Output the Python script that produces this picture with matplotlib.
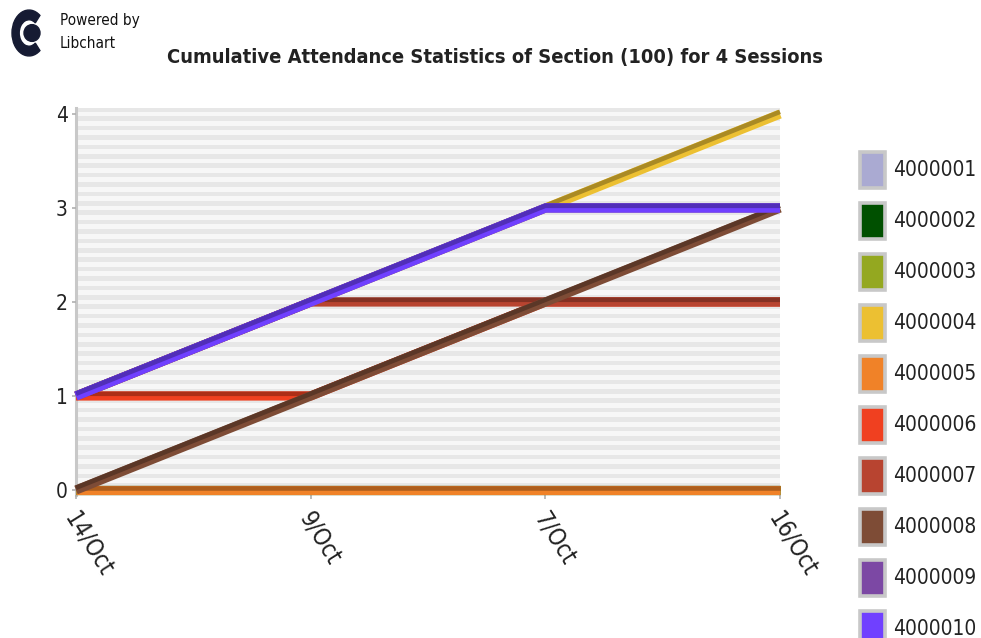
import numpy as np
import matplotlib
matplotlib.use('Agg')
import matplotlib.pyplot as plt
import matplotlib.patheffects as pe
from matplotlib.patches import Rectangle, Wedge, Ellipse
from matplotlib.colors import to_rgb

# sessions and cumulative attendance per student
sessions = ['14/Oct', '9/Oct', '7/Oct', '16/Oct']
students = ['4000001', '4000002', '4000003', '4000004', '4000005',
            '4000006', '4000007', '4000008', '4000009', '4000010']
attendance = [
    [0, 0, 0, 0],
    [0, 0, 0, 0],
    [0, 0, 0, 0],
    [1, 2, 3, 4],
    [0, 0, 0, 0],
    [1, 1, 2, 2],
    [1, 2, 2, 2],
    [0, 1, 2, 3],
    [1, 2, 3, 3],
    [1, 2, 3, 3],
]
colors = ['#aaaad2', '#005000', '#94a820', '#ecc032', '#f08228',
          '#f04020', '#b84430', '#7e4c36', '#7c48a4', '#7040ff']
title = 'Cumulative Attendance Statistics of Section (100) for 4 Sessions'

W, H = 981, 638
FONT = dict(family='DejaVu Sans', stretch='condensed')


def box(x0, y0, x1, y1):
    # pixel box (top-left origin) -> figure fraction rect
    return [x0 / W, 1 - y1 / H, (x1 - x0) / W, (y1 - y0) / H]


def darker(c, f=0.72):
    r, g, b = to_rgb(c)
    return (r * f, g * f, b * f)


fig = plt.figure(figsize=(W / 100, H / 100), dpi=100)

# logo
lax = fig.add_axes(box(8, 6, 48, 60))
lax.set_xlim(-1, 1)
lax.set_ylim(-1, 1)
lax.axis('off')
lax.add_patch(Wedge((0.05, 0), 0.85, 50, 310, width=0.36, color='#161b33'))
lax.add_patch(Ellipse((0.2, 0), 0.8, 0.62, color='#161b33'))
fig.text(60 / W, 1 - 21 / H, 'Powered by', fontsize=11, va='center', color='#111111', **FONT)
fig.text(60 / W, 1 - 44 / H, 'Libchart', fontsize=11, va='center', color='#111111', **FONT)

fig.text(495 / W, 1 - 57 / H, title, fontsize=14.4, fontweight='bold', ha='center', va='center',
         color='#222222', **FONT)

# plot area
ax = fig.add_axes(box(76, 108.4, 780, 494.7))
ax.set_xlim(0, 3)
ax.set_ylim(-0.05, 4.06)
ax.set_facecolor('#f7f7f7')
for k in range(-1, 41):
    ax.axhspan(k * 0.1 + 0.025, k * 0.1 + 0.075, color='#e7e7e7', lw=0, zorder=0)

x = np.arange(len(sessions))
for i, (vals, c) in enumerate(zip(attendance, colors)):
    ax.plot(x, vals, color=c, lw=6.6, solid_capstyle='butt', clip_on=False, zorder=3 + i,
            path_effects=[pe.Normal(),
                          pe.Stroke(offset=(0, 1.6), linewidth=3.3, foreground=darker(c))])

for s in ['top', 'right', 'bottom']:
    ax.spines[s].set_visible(False)
ax.spines['left'].set_color('#c8c8c8')
ax.spines['left'].set_linewidth(2.2)
ax.spines['left'].set_zorder(1)

ax.set_yticks(range(5))
ax.set_yticklabels([str(v) for v in range(5)])
ax.set_xticks(x)
ax.set_xticklabels(sessions)
ax.tick_params(axis='both', color='#b0b0b0', length=3, width=1.2, labelcolor='#222222')
ax.tick_params(axis='y', pad=3)
ax.tick_params(axis='x', pad=5)
for lab in ax.get_yticklabels():
    lab.set(fontsize=15, **FONT)
off = matplotlib.transforms.ScaledTranslation(4 / 100, -2 / 100, fig.dpi_scale_trans)
for lab in ax.get_xticklabels():
    lab.set(fontsize=17, rotation=-58, ha='left', va='top', rotation_mode='anchor', **FONT)
    lab.set_transform(lab.get_transform() + off)

# legend
for i, (name, c) in enumerate(zip(students, colors)):
    cy = 170 + 51 * i
    fig.patches.append(Rectangle((860 / W, 1 - (cy + 18) / H), 25 / W, 36 / H,
                                 transform=fig.transFigure, facecolor=c,
                                 edgecolor='#c8c8c8', lw=2.6))
    fig.text(893 / W, 1 - cy / H, name, fontsize=15, va='center', color='#222222', **FONT)

fig.savefig('out.png', dpi=100)
